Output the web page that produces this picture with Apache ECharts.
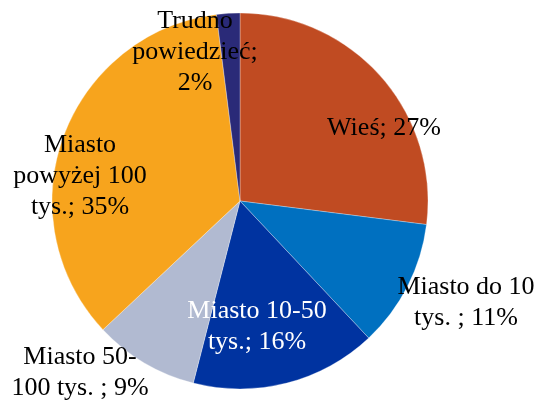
<!DOCTYPE html>
<html>
<head>
<meta charset="utf-8">
<script src="https://cdn.jsdelivr.net/npm/echarts@6/dist/echarts.min.js"></script>
<style>
  html, body { margin: 0; padding: 0; background: #fff; }
</style>
</head>
<body>
<div id="chart" style="width:540px;height:400px;"></div>
<script>
// dane z wykresu
const categories = ["Wieś", "Miasto do 10 tys. ", "Miasto 10-50 tys.", "Miasto 50-100 tys. ", "Miasto powyżej 100 tys.", "Trudno powiedzieć"];
const values = [27, 11, 16, 9, 35, 2];
const labelText = ["Wieś; 27%", "Miasto do 10\ntys. ; 11%", "Miasto 10-50\ntys.; 16%", "Miasto 50-\n100 tys. ; 9%", "Miasto\npowyżej 100\ntys.; 35%", "Trudno\npowiedzieć;\n2%"];

const colors = ["#C04B22", "#0070C0", "#0033A0", "#B1BAD1", "#F7A41D", "#2A2A78"];
const labelColors = ["#000", "#000", "#fff", "#000", "#000", "#000"];
// label centres (px)
const labelPos = [[384, 128], [466, 303], [257, 327], [80, 373], [80, 176], [195, 52]];

const myChart = echarts.init(document.getElementById("chart"));
const option = {
  animation: false,
  series: [
    {
      type: "pie",
      center: [240, 201],
      radius: [0, 188],
      startAngle: 90,
      clockwise: true,
      data: categories.map((name, i) => ({
        name: name,
        value: values[i],
        itemStyle: { color: colors[i] },
        label: { color: labelColors[i] }
      })),
      itemStyle: {
        borderColor: "rgba(255,255,255,0.6)",
        borderWidth: 0.5
      },
      label: {
        show: true,
        position: "inside",
        formatter: p => labelText[p.dataIndex],
        fontFamily: "Liberation Serif",
        fontSize: 26,
        lineHeight: 31,
        align: "center"
      },
      labelLine: { show: false },
      labelLayout: p => ({
        x: labelPos[p.dataIndex][0],
        y: labelPos[p.dataIndex][1],
        align: "center",
        verticalAlign: "middle"
      })
    }
  ]
};
myChart.setOption(option);
</script>
</body>
</html>
